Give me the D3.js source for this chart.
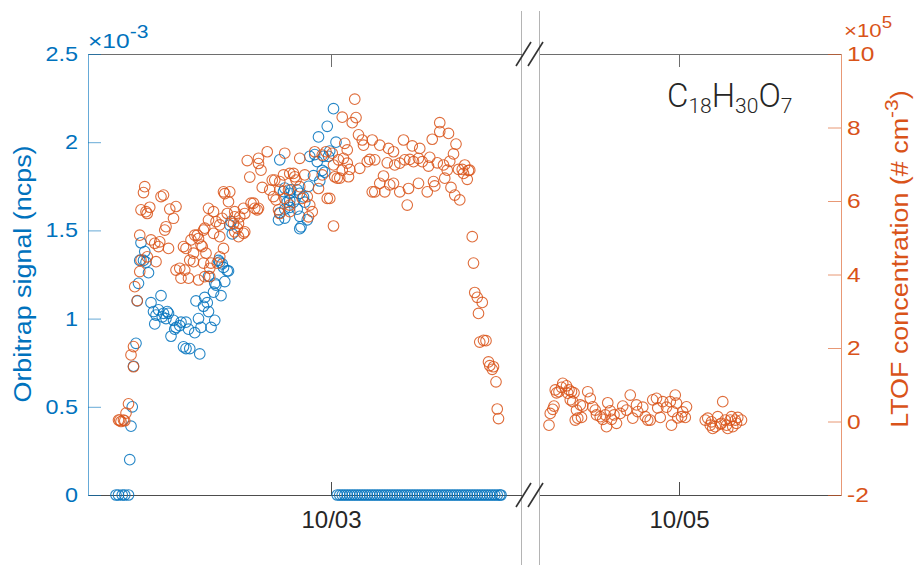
<!DOCTYPE html>
<html>
<head>
<meta charset="utf-8">
<script src="https://cdn.jsdelivr.net/npm/d3@7"></script>
<style>
  body { margin: 0; background: #fff; }
  svg { font-family: "Liberation Sans", Arial, sans-serif; }
</style>
</head>
<body>
<div class="chart"></div>
<script>
// time in hours since 10/02 00:00, Orbitrap signal in 1e-3 ncps
const orbitrap = [
  [6.8,0],[7.0,0],[7.3,0],[7.5,0],[7.8,0],[7.9,0.20],[8.0,0.39],[8.1,0.50],[8.2,0.73],[8.4,0.86],
  [8.5,1.10],[8.6,1.20],[8.7,1.33],[8.8,1.43],[9.0,1.33],[9.1,1.38],[9.2,1.32],[9.4,1.26],[9.6,1.09],[9.8,1.04],
  [9.9,0.97],[10.0,1.02],[10.2,1.05],[10.4,1.13],[10.5,1.01],[10.6,1.03],[10.8,1.00],[10.9,1.04],[11.0,1.03],[11.2,0.90],
  [11.4,0.99],[11.5,0.94],[11.6,0.95],[11.9,0.96],[12.0,0.98],[12.2,0.84],[12.4,0.83],[12.4,0.98],[12.6,0.94],[12.7,0.83],
  [13.1,0.92],[13.2,1.10],[13.4,1.00],[13.5,0.80],[13.6,0.95],[13.8,1.07],[13.9,1.12],[14.1,1.09],[14.2,1.04],[14.2,1.24],
  [14.4,0.95],[14.6,1.15],[14.7,0.99],[14.7,1.20],[14.8,1.19],[15.0,1.33],[15.1,1.32],[15.2,1.13],[15.3,1.31],[15.4,1.29],
  [15.5,1.21],[15.7,1.27],[15.8,1.27],[15.9,1.53],[16.1,1.48],[16.0,1.55],[19.8,1.56],[19.9,1.60],[19.9,1.90],[20.2,1.72],
  [20.3,1.62],[20.3,1.74],[20.3,1.57],[20.5,1.66],[20.7,1.63],[20.7,1.71],[20.7,1.67],[20.8,1.73],[21.0,1.66],[21.3,1.73],
  [21.3,1.62],[21.5,1.71],[21.5,1.58],[21.5,1.51],[21.6,1.52],[21.8,1.69],[21.9,1.66],[22.1,1.56],[22.2,1.75],[22.3,1.92],
  [22.6,1.81],[22.7,1.93],[22.9,1.89],[23.0,2.03],[23.1,1.78],[23.3,1.84],[23.4,1.92],[23.5,1.83],[23.7,2.09],[23.8,1.92],
  [23.9,1.95],[24.2,2.19],[24.4,2.00],
  [24.5,0],[24.7,0],[24.9,0],[25.1,0],[25.3,0],[25.5,0],[25.7,0],[25.9,0],[26.1,0],[26.3,0],[26.5,0],[26.7,0],
  [26.9,0],[27.1,0],[27.3,0],[27.5,0],[27.7,0],[27.9,0],[28.1,0],[28.3,0],[28.5,0],[28.7,0],[28.9,0],[29.1,0],
  [29.3,0],[29.5,0],[29.7,0],[29.9,0],[30.1,0],[30.3,0],[30.5,0],[30.7,0],[30.9,0],[31.1,0],[31.3,0],[31.5,0],
  [31.7,0],[31.9,0],[32.1,0],[32.3,0],[32.5,0],[32.7,0],[32.9,0],[33.1,0],[33.3,0],[33.5,0],[33.7,0],[33.9,0],
  [34.1,0],[34.3,0],[34.5,0],[34.7,0],[34.9,0],[35.1,0],[35.3,0],[35.5,0],[35.7,0],[35.9,0],[36.1,0],[36.3,0],
  [36.5,0],[36.7,0],[36.9,0],[37.1,0],[37.3,0],[37.5,0],[37.6,0]
]

// time in hours since 10/02 00:00, LTOF concentration in 1e5 cm-3
const ltof = [
  [7.0,0.04],[7.1,0.04],[7.2,0.00],[7.4,0.04],[7.5,0.02],[7.6,0.23],[7.8,0.48],[8.0,1.81],[8.2,1.49],[8.2,2.04],
  [8.3,3.67],[8.5,3.29],[8.7,4.08],[8.7,5.07],[8.8,5.76],[8.8,4.39],[9.0,6.23],[9.1,6.39],[9.2,5.71],[9.3,5.66],
  [9.3,4.48],[9.5,5.83],[9.6,4.94],[9.9,4.85],[10.0,4.35],[10.2,4.76],[10.3,4.89],[10.4,6.12],[10.6,6.16],[10.7,5.21],
  [10.8,5.30],[11.0,4.71],[11.1,5.78],[11.4,5.53],[11.6,5.85],[11.6,4.12],[11.9,4.17],[12.0,3.90],[12.2,4.76],[12.3,4.12],
  [12.4,4.71],[12.6,3.90],[12.7,4.39],[12.8,4.94],[13.0,4.35],[13.0,4.58],[13.1,5.07],[13.3,5.07],[13.4,4.98],[13.4,3.85],
  [13.6,4.80],[13.7,4.76],[13.8,5.21],[13.8,4.31],[13.9,5.26],[13.9,3.94],[14.0,4.58],[14.2,5.48],[14.2,5.80],[14.3,3.94],
  [14.3,4.17],[14.4,4.31],[14.6,5.71],[14.6,5.12],[14.8,5.44],[14.9,4.31],[15.1,5.35],[15.1,5.03],[15.1,4.48],[15.3,5.53],
  [15.4,4.71],[15.4,6.25],[15.5,6.20],[15.7,5.66],[15.8,5.98],[15.9,6.25],[16.2,5.39],[16.3,5.71],[16.3,5.16],[16.3,5.57],
  [16.5,5.26],[16.6,5.39],[16.6,5.03],[16.7,5.57],[17.0,5.80],[17.0,5.12],[17.1,5.16],[17.1,5.66],[17.3,7.10],[17.5,6.65],
  [17.6,5.94],[17.8,5.94],[17.9,5.80],[18.1,5.76],[18.2,7.02],[18.2,5.80],[18.2,7.16],[18.4,6.84],[18.5,6.37],[18.9,7.34],
  [19.1,6.30],[19.3,6.57],[19.4,6.12],[19.5,6.57],[19.6,6.03],[19.8,5.76],[19.9,6.53],[19.9,6.30],[19.9,5.66],[20.2,6.71],
  [20.3,7.30],[20.3,6.07],[20.6,6.30],[20.7,6.75],[20.7,5.71],[20.7,5.89],[21.0,6.75],[21.1,6.66],[21.2,6.57],[21.5,7.16],
  [21.5,6.39],[21.7,6.07],[21.9,6.71],[22.1,6.12],[22.2,5.57],[22.3,5.89],[22.5,5.71],[22.7,7.34],[23.0,6.34],[23.3,7.25],
  [23.3,6.71],[23.6,7.34],[23.7,6.07],[23.9,6.07],[24.1,7.30],[24.2,6.98],[24.2,5.32],[24.3,6.66],[24.5,6.62],[24.6,7.12],
  [24.7,6.62],[24.9,6.84],[24.9,8.28],[25.0,7.16],[25.1,7.57],[25.3,7.39],[25.3,7.03],[25.4,6.66],[25.5,6.86],[25.7,8.13],
  [25.9,8.77],[26.0,8.27],[26.2,7.80],[26.3,6.89],[26.5,7.66],[26.6,7.52],[26.9,7.07],[27.1,7.13],[27.3,7.66],[27.3,6.25],
  [27.5,7.12],[27.5,6.25],[27.9,7.52],[27.9,6.48],[28.2,6.68],[28.3,6.25],[28.5,7.04],[28.6,7.43],[28.7,6.44],[29.0,7.34],
  [29.0,6.48],[29.1,6.98],[29.5,7.03],[29.5,6.25],[29.8,7.66],[29.9,7.12],[30.1,5.89],[30.2,6.34],[30.3,7.13],[30.5,7.50],
  [30.6,7.07],[31.0,7.16],[31.0,6.48],[31.1,7.43],[31.3,7.07],[31.7,6.25],[31.8,6.95],[31.9,7.19],[32.1,7.68],[32.2,6.53],
  [32.3,6.41],[32.5,7.04],[32.7,8.13],[32.7,7.89],[33.0,6.98],[33.1,6.62],[33.3,6.84],[33.4,7.84],[33.5,7.08],[33.6,6.37],
  [33.8,7.28],[33.9,6.16],[34.0,7.55],[34.2,6.86],[34.3,6.03],[34.5,6.86],[34.6,6.75],[34.7,6.98],[34.9,6.59],[35.0,6.83],
  [35.1,6.84],[35.3,5.03],[35.4,4.31],[35.5,3.51],[35.7,3.38],[35.8,2.94],[35.9,2.16],[36.1,3.24],[36.2,2.21],[36.4,2.20],
  [36.6,1.62],[36.7,1.52],[36.9,1.42],[37.0,1.49],[37.2,1.08],[37.3,0.34],[37.4,0.08],
  [61.6,-0.10],[61.7,0.22],[61.9,0.33],[62.0,0.42],[62.1,0.86],[62.2,0.78],[62.4,0.81],[62.6,0.93],[62.7,1.04],[63.0,0.97],
  [63.1,0.77],[63.2,0.86],[63.3,0.59],[63.4,0.81],[63.5,0.54],[63.6,0.78],[63.7,0.04],[63.8,0.31],[63.9,0.09],[64.1,0.45],
  [64.2,0.11],[64.3,0.42],[64.7,0.81],[64.9,0.63],[65.1,0.40],[65.3,0.31],[65.4,0.18],[65.7,0.13],[65.9,0.06],[66.1,0.18],
  [66.2,-0.14],[66.3,0.51],[66.5,0.29],[66.6,0.06],[66.8,0.18],[67.0,-0.05],[67.3,0.22],[67.5,0.42],[67.8,0.31],[68.1,0.72],
  [68.3,0.09],[68.6,0.45],[68.7,0.27],[69.1,0.39],[69.3,0.13],[69.5,0.04],[69.7,0.04],[69.9,0.59],[70.2,0.63],[70.3,0.37],
  [70.5,0.11],[70.7,0.54],[71.0,0.39],[71.3,0.54],[71.4,-0.10],[71.5,0.27],[71.7,0.72],[71.8,0.50],[71.9,0.10],[72.2,0.13],
  [72.3,0.26],[72.5,0.11],[72.6,0.40],
  [74.1,0.04],[74.3,0.09],[74.5,-0.10],[74.6,-0.01],[74.7,-0.19],[74.9,-0.14],[75.1,0.13],[75.3,-0.07],[75.4,-0.05],[75.5,0.54],
  [75.7,0.04],[75.8,-0.10],[75.9,-0.19],[76.1,0.04],[76.2,0.13],[76.3,-0.14],[76.5,0.04],[76.6,-0.05],[76.7,0.11],[77.0,0.04]
]

const leftTicks = [0, 0.5, 1, 1.5, 2, 2.5]
const rightTicks = [-2, 0, 2, 4, 6, 8, 10]
const dateTicks = [24, 72]           // 10/03 and 10/05, hours since 10/02
const panelLimits = [[4.56, 39.24], [60.84, 84.96]]

const blue = "#0072BD", orange = "#D95319", dark = "#262626"
const width = 922, height = 565
const plotTop = 54, plotBottom = 495
const panelRanges = [[88, 521.5], [539.5, 841]]
const stretchX = 1.17   // the original font is wider than Arial

const base = Date.UTC(2018, 9, 2)
const toDate = h => new Date(base + h * 36e5)

const svg = d3.select(".chart").append("svg")
    .attr("width", width)
    .attr("height", height)

const yL = d3.scaleLinear().domain([0, 2.5]).range([plotBottom, plotTop])
const yR = d3.scaleLinear().domain([-2, 10]).range([plotBottom, plotTop])

// gray lines around the axis break
svg.selectAll(".break-line")
    .data([521.5, 539.5])
    .enter().append("line")
    .attr("x1", d => d).attr("x2", d => d)
    .attr("y1", 11).attr("y2", height)
    .attr("stroke", "#b4b4b4")
    .attr("stroke-width", 1)

const panels = panelLimits.map((lim, i) => {
    const x = d3.scaleUtc().domain(lim.map(toDate)).range(panelRanges[i])
    const ticks = dateTicks.filter(t => t >= lim[0] && t <= lim[1]).map(toDate)

    const g = svg.append("g").attr("class", "panel")

    const xb = g.append("g")
        .attr("transform", `translate(0,${plotBottom})`)
        .call(d3.axisBottom(x).tickValues(ticks).tickSizeInner(-13).tickSizeOuter(0)
            .tickPadding(16).tickFormat(d3.utcFormat("%m/%d")))
    xb.select(".domain").attr("stroke", "#4d4d4d")
    xb.selectAll(".tick line").attr("stroke", "#4d4d4d")
    xb.selectAll("text").attr("fill", dark).style("font-size", "24px")

    const xt = g.append("g")
        .attr("transform", `translate(0,${plotTop})`)
        .call(d3.axisTop(x).tickValues(ticks).tickSizeInner(-13).tickSizeOuter(0).tickFormat(""))
    xt.select(".domain").attr("stroke", "#6e6e6e")
    xt.selectAll(".tick line").attr("stroke", "#6e6e6e")

    return { x, lim }
})

function widen(texts) {
    texts.each(function () {
        const t = d3.select(this)
        const x = +t.attr("x") || 0
        t.attr("x", 0).attr("transform", `translate(${x},0) scale(${stretchX},1)`)
    })
}

// left axis
const axL = svg.append("g")
    .attr("transform", "translate(88,0)")
    .call(d3.axisLeft(yL).tickValues(leftTicks).tickSizeInner(-13).tickSizeOuter(0)
        .tickPadding(10).tickFormat(d => String(d)))
axL.select(".domain").attr("stroke", blue).attr("stroke-opacity", 0.6)
axL.selectAll(".tick line").attr("stroke", blue).attr("stroke-opacity", 0.6)
axL.selectAll("text").attr("fill", blue).style("font-size", "20px").call(widen)

// right axis
const axR = svg.append("g")
    .attr("transform", "translate(841,0)")
    .call(d3.axisRight(yR).tickValues(rightTicks).tickSizeInner(-13).tickSizeOuter(0)
        .tickPadding(6).tickFormat(d => String(d)))
axR.select(".domain").attr("stroke", orange).attr("stroke-opacity", 0.6)
axR.selectAll(".tick line").attr("stroke", orange).attr("stroke-opacity", 0.6)
axR.selectAll("text").attr("fill", orange).style("font-size", "21px").call(widen)

// break marks
const slashes = []
;[plotTop, plotBottom].forEach(y => [523.5, 535.5].forEach(cx => slashes.push({ cx, y })))
svg.selectAll(".slash")
    .data(slashes)
    .enter().append("line")
    .attr("x1", d => d.cx - 7.5).attr("y1", d => d.y + 12)
    .attr("x2", d => d.cx + 7.5).attr("y2", d => d.y - 12)
    .attr("stroke", "#333")
    .attr("stroke-width", 1.6)

// scatter
function drawSeries(data, y, color) {
    panels.forEach(p => {
        svg.append("g").selectAll("circle")
            .data(data.filter(d => d[0] >= p.lim[0] && d[0] <= p.lim[1]))
            .enter().append("circle")
            .attr("cx", d => p.x(toDate(d[0])))
            .attr("cy", d => y(d[1]))
            .attr("r", 5.3)
            .attr("fill", "none")
            .attr("stroke", color)
            .attr("stroke-width", 1.1)
            .attr("stroke-opacity", 0.85)
    })
}
drawSeries(orbitrap, yL, blue)
drawSeries(ltof, yR, orange)

// exponent labels
const expL = svg.append("text")
    .attr("transform", `translate(88,48) scale(${stretchX},1)`)
    .attr("fill", blue).style("font-size", "21px")
expL.append("tspan").text("×10")
expL.append("tspan").attr("dy", -10).style("font-size", "18px").text("-3")

const expR = svg.append("text")
    .attr("transform", `translate(844,37) scale(${stretchX},1)`)
    .attr("fill", orange).style("font-size", "19px")
expR.append("tspan").text("×10")
expR.append("tspan").attr("dy", -9).style("font-size", "16px").text("5")

// axis titles
svg.append("text")
    .attr("transform", `translate(31,274) rotate(-90) scale(${stretchX},1)`)
    .attr("text-anchor", "middle")
    .attr("fill", blue)
    .style("font-size", "23px")
    .text("Orbitrap signal (ncps)")

const yt = svg.append("text")
    .attr("transform", `translate(908,259) rotate(-90) scale(${stretchX},1)`)
    .attr("text-anchor", "middle")
    .attr("fill", orange)
    .style("font-size", "23px")
yt.append("tspan").text("LTOF concentration (# cm")
yt.append("tspan").attr("dy", -10).style("font-size", "18px").text("-3")
yt.append("tspan").attr("dy", 10).text(")")

// compound label
const formula = svg.append("text")
    .attr("x", 667).attr("y", 107)
    .attr("fill", dark)
    .style("font-family", "Roboto, 'Liberation Sans', sans-serif")
    .style("font-weight", 300)
    .style("font-size", "33px")
;[["C", ""], ["18", "sub"], ["H", ""], ["30", "sub"], ["O", ""], ["7", "sub"]].forEach(([t, k], i, arr) => {
    const prevSub = i > 0 && arr[i - 1][1] === "sub"
    formula.append("tspan")
        .attr("dy", k === "sub" ? 6 : (prevSub ? -6 : 0))
        .style("font-size", k === "sub" ? "21px" : "33px")
        .text(t)
})
</script>
</body>
</html>
